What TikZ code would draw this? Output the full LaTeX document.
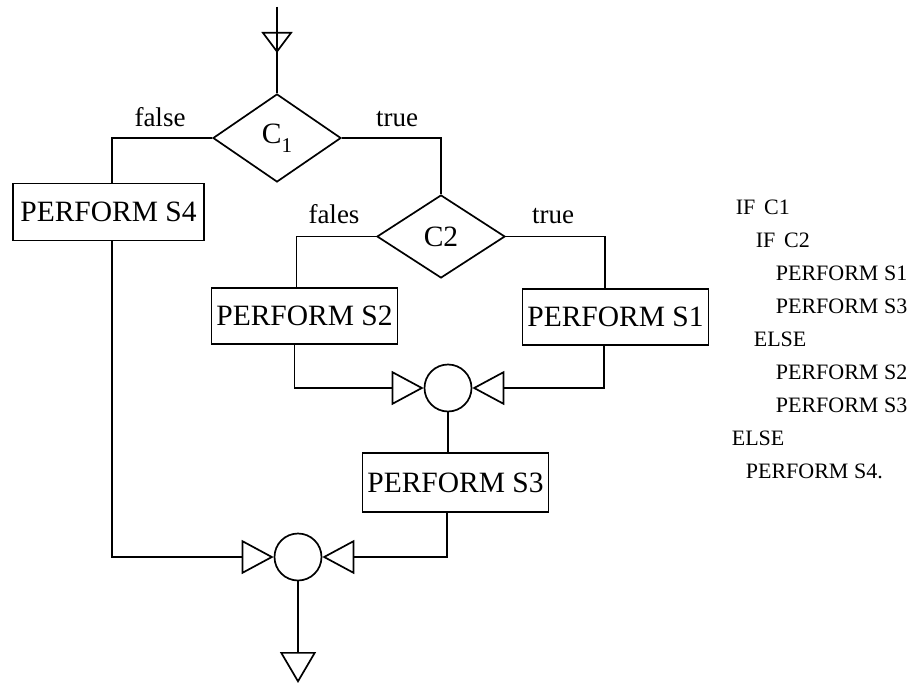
\documentclass[tikz,border=0pt]{standalone}
\usepackage{fontspec}
\setmainfont{Liberation Serif}
\usetikzlibrary{shapes.geometric,arrows.meta}
\begin{document}
\begin{tikzpicture}[x=1pt,y=-1pt,line width=1.7pt,
  proc/.style={draw,rectangle,inner sep=0pt,minimum height=57pt,
    font=\fontsize{29.5}{34}\selectfont},
  cond/.style={draw,diamond,aspect=1.45,inner sep=0pt,
    font=\fontsize{29.5}{34}\selectfont},
  junc/.style={draw,circle,minimum size=47pt,inner sep=0pt},
  flow/.style={-{Triangle[open,length=32pt,width=34pt]}},
  lbl/.style={inner sep=0pt,anchor=base,font=\fontsize{27}{30}\selectfont},
  code/.style={inner sep=0pt,anchor=base west,font=\fontsize{22}{26}\selectfont}]
\useasboundingbox (0,0) rectangle (921,685);

% decisions
\node[cond,minimum width=128pt,minimum height=88pt] (c1) at (277,138)
  {C\raisebox{-0.3em}{\fontsize{21}{21}\selectfont 1}};
\node[cond,minimum width=128pt,minimum height=83pt] (c2) at (441,236.5) {C2};

% process boxes
\node[proc,minimum width=191pt] (s4) at (108.5,212) {PERFORM S4};
\node[proc,minimum width=186pt,minimum height=56pt] (s2) at (304.5,316) {PERFORM S2};
\node[proc,minimum width=186pt,minimum height=56pt] (s1) at (615.5,317) {PERFORM S1};
\node[proc,minimum width=186pt,minimum height=59pt] (s3) at (455.5,482.5) {PERFORM S3};

% junctions
\node[junc] (j1) at (448,388) {};
\node[junc] (j2) at (298,557) {};

% entry and exit
\coordinate (entry) at (277,7);
\coordinate (entrytip) at (277,53);
\coordinate (exit) at (298,683);

\draw (entry) -- (c1.north);
\draw[-{Triangle[open,length=21pt,width=31pt]}] (entry) -- (entrytip);

% branches
\draw (c1.west) -| ([xshift=3.5pt]s4.north);
\draw (c1.east) -| (c2.north);
\draw (c2.west) -| ([xshift=-8pt]s2.north);
\draw (c2.east) -| ([xshift=-10.5pt]s1.north);

% merges
\draw[flow] ([xshift=-10pt]s2.south) |- (j1.west);
\draw[flow] ([xshift=-11.5pt]s1.south) |- (j1.east);
\draw (j1.south) -- (j1.south |- s3.north);
\draw[flow] ([xshift=-8.5pt]s3.south) |- (j2.east);
\draw[flow] ([xshift=3.5pt]s4.south) |- (j2.west);
\draw[-{Triangle[open,length=31pt,width=36pt]}] (j2.south) -- (exit);

% branch labels
\node[lbl] (lf1) at (160,126) {false};
\node[lbl] (lt1) at (397,126) {true};
\node[lbl] (lf2) at (334,223) {fales};
\node[lbl] (lt2) at (553,223) {true};

% equivalent code
\node[code] (k1) at (735,214) {IF\hspace{0.4em}C1};
\node[code] (k2) at (755,247) {IF\hspace{0.4em}C2};
\node[code] (k3) at (775,280) {PERFORM S1};
\node[code] (k4) at (775,313) {PERFORM S3};
\node[code] (k5) at (753,346) {ELSE};
\node[code] (k6) at (775,379) {PERFORM S2};
\node[code] (k7) at (775,412) {PERFORM S3};
\node[code] (k8) at (731,445) {ELSE};
\node[code] (k9) at (745,478) {PERFORM S4.};
\end{tikzpicture}
\end{document}
